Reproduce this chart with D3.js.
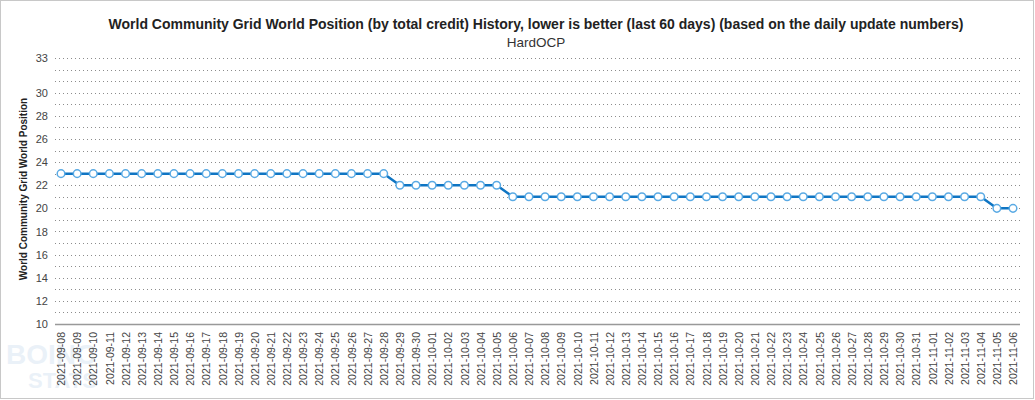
<!DOCTYPE html>
<html>
<head>
<meta charset="utf-8">
<script src="https://cdn.jsdelivr.net/npm/d3@7"></script>
<style>
  body { margin: 0; background: #fff; }
  svg { display: block; font-family: Arial, "Liberation Sans", sans-serif; }
</style>
</head>
<body>
<div id="chart"></div>
<script>
const title = "World Community Grid World Position (by total credit) History, lower is better (last 60 days) (based on the daily update numbers)";
const subtitle = "HardOCP";
const yLabel = "World Community Grid World Position";

const dates = [
  "2021-09-08","2021-09-09","2021-09-10","2021-09-11","2021-09-12","2021-09-13","2021-09-14","2021-09-15",
  "2021-09-16","2021-09-17","2021-09-18","2021-09-19","2021-09-20","2021-09-21","2021-09-22","2021-09-23",
  "2021-09-24","2021-09-25","2021-09-26","2021-09-27","2021-09-28","2021-09-29","2021-09-30","2021-10-01",
  "2021-10-02","2021-10-03","2021-10-04","2021-10-05","2021-10-06","2021-10-07","2021-10-08","2021-10-09",
  "2021-10-10","2021-10-11","2021-10-12","2021-10-13","2021-10-14","2021-10-15","2021-10-16","2021-10-17",
  "2021-10-18","2021-10-19","2021-10-20","2021-10-21","2021-10-22","2021-10-23","2021-10-24","2021-10-25",
  "2021-10-26","2021-10-27","2021-10-28","2021-10-29","2021-10-30","2021-10-31","2021-11-01","2021-11-02",
  "2021-11-03","2021-11-04","2021-11-05","2021-11-06"
];
const positions = [
  23,23,23,23,23,23,23,23,23,23,23,23,23,23,23,23,23,23,23,23,23,
  22,22,22,22,22,22,22,
  21,21,21,21,21,21,21,21,21,21,21,21,21,21,21,21,21,21,21,21,21,21,21,21,21,21,21,21,21,21,
  20,20
];
const yTicks = [10,12,14,16,18,20,22,24,26,28,30,33];
const yGrid = d3.range(11, 34);

const width = 1035, height = 400;
const plot = { left: 55, right: 1020, top: 58, bottom: 324 };

const svg = d3.select("#chart").append("svg")
  .attr("width", width)
  .attr("height", height);

// frame
svg.append("rect")
  .attr("x", 0.5).attr("y", 0.5)
  .attr("width", width - 2).attr("height", height - 2)
  .attr("fill", "#fff")
  .attr("stroke", "#c8c8c8");

// faint watermark
const wm = svg.append("g").attr("opacity", 0.12).attr("fill", "#5b8fc7")
  .style("font-weight", "bold");
wm.append("text").attr("x", 6).attr("y", 364).style("font-size", "28px").text("BOINC");
wm.append("text").attr("x", 28).attr("y", 388).style("font-size", "22px").text("STATS");

const x = d3.scalePoint()
  .domain(dates)
  .range([61, 1013]);

const y = d3.scaleLinear()
  .domain([10, 33])
  .range([plot.bottom, plot.top]);

// gridlines
svg.append("g")
  .selectAll("line")
  .data(yGrid)
  .join("line")
  .attr("x1", plot.left).attr("x2", plot.right)
  .attr("y1", d => Math.round(y(d)) + 0.5)
  .attr("y2", d => Math.round(y(d)) + 0.5)
  .attr("stroke", "#8c8c8c")
  .attr("stroke-width", 1)
  .attr("stroke-dasharray", "1,3");

// baseline
svg.append("line")
  .attr("x1", plot.left).attr("x2", plot.right)
  .attr("y1", Math.round(y(10)) + 0.5).attr("y2", Math.round(y(10)) + 0.5)
  .attr("stroke", "#999")
  .attr("stroke-width", 1.5);

// y axis labels
const yAxis = svg.append("g")
  .attr("transform", `translate(${plot.left},0)`)
  .call(d3.axisLeft(y).tickValues(yTicks).tickSize(0).tickPadding(7).tickFormat(d3.format("d")));
yAxis.select(".domain").remove();
yAxis.selectAll("text")
  .attr("fill", "#444")
  .style("font-size", "11px")
  .style("font-family", "Arial, 'Liberation Sans', sans-serif");

// x axis labels
const xAxis = svg.append("g")
  .attr("transform", `translate(0,${plot.bottom})`)
  .call(d3.axisBottom(x).tickSize(0).tickPadding(0));
xAxis.select(".domain").remove();
xAxis.selectAll("text")
  .attr("transform", "rotate(-90)")
  .attr("x", -8)
  .attr("y", 0)
  .attr("dy", "0.35em")
  .attr("text-anchor", "end")
  .attr("fill", "#444")
  .style("font-size", "10.5px")
  .style("font-family", "Arial, 'Liberation Sans', sans-serif");

// title & subtitle
svg.append("text")
  .attr("x", 536).attr("y", 29)
  .attr("text-anchor", "middle")
  .attr("fill", "#222")
  .style("font-size", "14px")
  .style("font-weight", "bold")
  .text(title);

svg.append("text")
  .attr("x", 536).attr("y", 47)
  .attr("text-anchor", "middle")
  .attr("fill", "#333")
  .style("font-size", "13.5px")
  .text(subtitle);

// y label
svg.append("text")
  .attr("transform", `translate(27,${(plot.top + plot.bottom) / 2 - 2}) rotate(-90)`)
  .attr("text-anchor", "middle")
  .attr("fill", "#222")
  .style("font-size", "10px")
  .style("font-weight", "bold")
  .text(yLabel);

// line
const line = d3.line()
  .x((d, i) => x(dates[i]))
  .y(d => y(d));

svg.append("path")
  .datum(positions)
  .attr("fill", "none")
  .attr("stroke", "#0f75c3")
  .attr("stroke-width", 2.5)
  .attr("d", line);

// markers
svg.append("g")
  .selectAll("circle")
  .data(positions)
  .join("circle")
  .attr("cx", (d, i) => x(dates[i]))
  .attr("cy", d => y(d))
  .attr("r", 3.8)
  .attr("fill", "#fff")
  .attr("stroke", "#5aaae4")
  .attr("stroke-width", 1.5);
</script>
</body>
</html>
